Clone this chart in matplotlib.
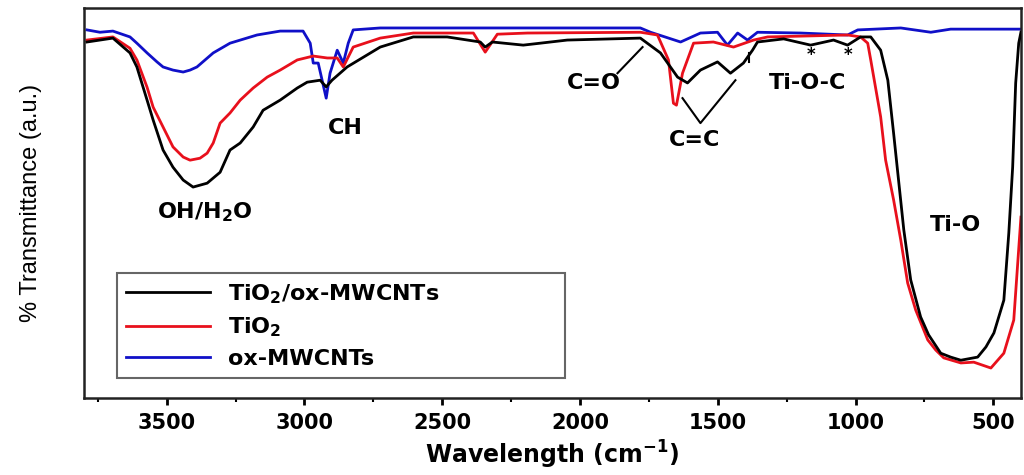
import matplotlib
matplotlib.use('Agg')
import matplotlib.pyplot as plt
from matplotlib.ticker import MultipleLocator

# FTIR spectra (wavenumber in cm-1, transmittance in a.u.)
wn_black = [3789, 3695, 3633, 3608, 3571, 3549, 3513, 3477, 3440, 3404, 3353, 3306,
            3270, 3233, 3186, 3150, 3088, 3026, 2990, 2943, 2921, 2900, 2845, 2725,
            2605, 2482, 2362, 2344, 2318, 2206, 2144, 2046, 1781, 1708, 1646, 1610,
            1563, 1501, 1454, 1407, 1374, 1356, 1261, 1163, 1080, 1029, 982, 945,
            909, 883, 862, 825, 800, 764, 735, 691, 655, 618, 557, 527, 498, 462,
            444, 430, 419, 408, 400]
t_black = [91.3, 92.3, 88.5, 84.9, 76.4, 71.3, 63.6, 59.2, 55.9, 54.1, 55.1, 57.9,
           63.6, 65.4, 69.5, 73.8, 76.4, 79.5, 81.0, 81.5, 79.8, 81.5, 84.9, 90.0,
           92.6, 92.6, 91.3, 90.0, 91.3, 90.5, 91.0, 91.8, 92.3, 88.5, 82.3, 80.8,
           84.1, 86.2, 83.3, 85.9, 89.2, 91.3, 92.1, 90.5, 91.8, 90.5, 92.6, 92.6,
           89.2, 81.5, 67.9, 43.1, 30.3, 20.8, 16.2, 11.5, 10.5, 9.7, 10.5, 13.1,
           16.7, 25.1, 42.3, 59.2, 80.8, 91.0, 93.8]

wn_red = [3789, 3695, 3633, 3608, 3571, 3549, 3513, 3477, 3440, 3415, 3379, 3353,
          3331, 3306, 3270, 3233, 3186, 3135, 3088, 3026, 2968, 2917, 2881, 2859,
          2823, 2725, 2605, 2387, 2344, 2300, 2191, 1781, 1719, 1679, 1661, 1650,
          1628, 1588, 1516, 1443, 1370, 1319, 1029, 982, 956, 945, 909, 891, 862,
          836, 811, 782, 738, 709, 680, 618, 571, 509, 462, 426, 400]
t_red = [91.8, 92.6, 89.7, 86.7, 79.7, 74.6, 69.5, 64.4, 61.8, 61.0, 61.5, 62.8,
         65.4, 70.5, 73.1, 76.4, 79.5, 82.3, 84.1, 86.7, 87.7, 87.2, 87.2, 84.9,
         90.0, 92.3, 93.6, 93.6, 88.7, 93.3, 93.6, 93.8, 93.1, 86.7, 75.6, 75.1,
         83.3, 91.0, 91.3, 90.0, 91.8, 92.6, 93.1, 92.6, 91.0, 86.7, 72.1, 61.0,
         50.8, 40.5, 29.5, 22.6, 14.9, 12.3, 10.3, 9.0, 9.2, 7.7, 11.5, 20.0, 46.4]

wn_blue = [3789, 3742, 3695, 3633, 3608, 3571, 3535, 3513, 3477, 3440, 3415, 3390,
           3331, 3270, 3172, 3088, 3005, 2979, 2968, 2950, 2921, 2907, 2881, 2859,
           2841, 2823, 2725, 1781, 1744, 1635, 1563, 1501, 1465, 1428, 1392, 1356,
           1199, 1029, 992, 836, 727, 655, 400]
t_blue = [94.4, 93.8, 94.1, 92.6, 91.0, 88.5, 86.2, 84.9, 84.1, 83.6, 84.1, 84.9,
          88.5, 91.0, 93.1, 94.1, 94.1, 91.0, 85.9, 85.9, 76.9, 83.3, 89.2, 85.9,
          91.0, 94.4, 94.9, 94.9, 93.8, 91.3, 93.6, 93.8, 90.5, 93.6, 91.8, 93.8,
          93.6, 93.1, 94.4, 94.9, 93.8, 94.6, 94.6]

labels = [r'TiO$_\mathbf{2}$/ox-MWCNTs', r'TiO$_\mathbf{2}$', 'ox-MWCNTs']
colors = ['black', '#e8101c', '#1010c8']

fig = plt.figure(figsize=(10.24, 4.75), dpi=100)
ax = fig.add_axes([0.082, 0.162, 0.915, 0.821])

ax.plot(wn_black, t_black, color=colors[0], lw=2, label=labels[0], zorder=3)
ax.plot(wn_red, t_red, color=colors[1], lw=2, label=labels[1], zorder=2)
ax.plot(wn_blue, t_blue, color=colors[2], lw=2, label=labels[2], zorder=1)

ax.set_xlim(3800, 400)
ax.set_ylim(0, 100)
ax.set_yticks([])
ax.xaxis.set_major_locator(MultipleLocator(500))
ax.xaxis.set_minor_locator(MultipleLocator(250))
ax.tick_params(axis='x', which='major', direction='out', length=5, width=2,
               labelsize=15, pad=6)
ax.tick_params(axis='x', which='minor', direction='out', length=3, width=1.5)
for lab in ax.get_xticklabels():
    lab.set_fontweight('bold')
for sp in ax.spines.values():
    sp.set_linewidth(1.8)
    sp.set_color('#222222')

ax.set_xlabel('Wavelength (cm$^{\\mathbf{-1}}$)', fontsize=17, fontweight='bold', labelpad=4)
ax.set_ylabel('% Transmittance (a.u.)', fontsize=17, family='Liberation Sans',
              labelpad=30)

# band labels
tk = dict(fontsize=16, fontweight='bold', ha='center', va='center')
ax.text(3361, 47.7, r'OH/H$_\mathbf{2}$O', **tk)
ax.text(2852, 69.2, 'CH', **tk)
ax.text(1948, 80.8, 'C=O', **tk)
ax.text(1584, 66.2, 'C=C', **tk)
ax.text(1174, 80.8, 'Ti-O-C', **tk)
ax.text(636, 44.4, 'Ti-O', **tk)
ax.text(1163, 87.9, '*', fontsize=12, fontweight='bold', ha='center', va='center')
ax.text(1029, 87.9, '*', fontsize=12, fontweight='bold', ha='center', va='center')

ax.plot([1773, 1864], [90.0, 83.3], color='black', lw=1.5)
ax.plot([1628, 1563, 1436], [76.9, 70.5, 81.5], color='black', lw=1.5)
ax.plot([1388, 1388], [88.5, 86.2], color='black', lw=1.5)

leg = ax.legend(loc='lower left', bbox_to_anchor=(0.035, 0.051, 0.478, 0.26),
                mode='expand', borderaxespad=0, fancybox=False, handlelength=3.8,
                labelspacing=0.45, prop={'size': 16, 'weight': 'bold'}, framealpha=1)
leg.get_frame().set_edgecolor('#666666')
leg.get_frame().set_linewidth(1.5)

fig.savefig('out.png', dpi=100)
